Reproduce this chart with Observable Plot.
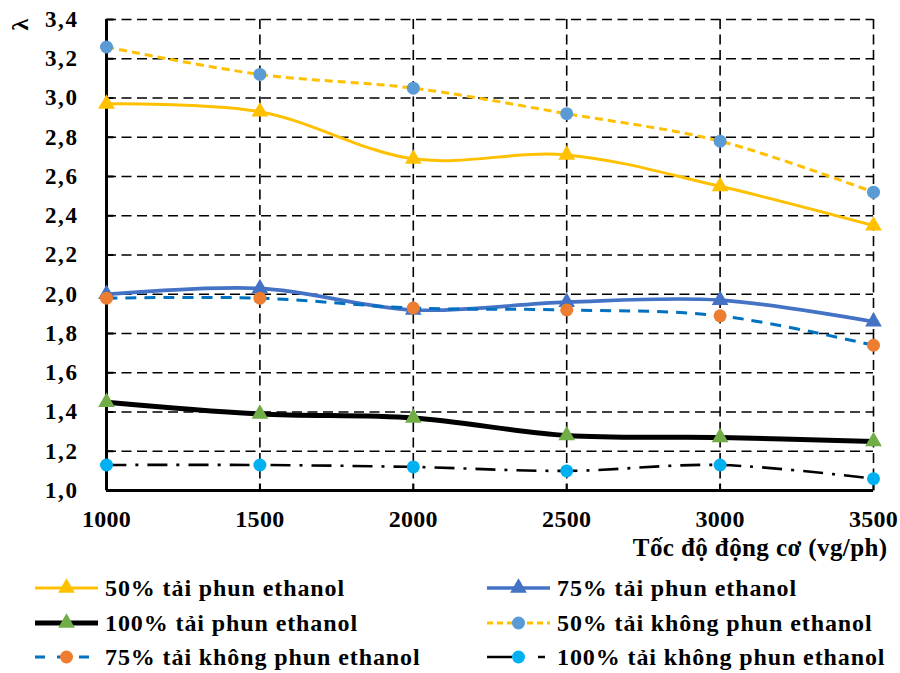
<!DOCTYPE html>
<html><head><meta charset="utf-8">
<script src="https://cdn.jsdelivr.net/npm/d3@7"></script>
<script src="https://cdn.jsdelivr.net/npm/@observablehq/plot@0.6"></script>
<style>
body{margin:0;background:#fff;}
#wrap{position:relative;width:900px;height:673px;font-family:"Liberation Serif",serif;font-weight:700;color:#000;}
#wrap svg.chart{position:absolute;left:0;top:0;}
#wrap svg.chart text{font-family:"Liberation Serif",serif !important;font-weight:700 !important;}
#wrap svg.chart g[aria-label="y-axis tick label"] text{font-size:23px !important;letter-spacing:1.6px;}
#wrap svg.chart g[aria-label="x-axis tick label"] text{font-size:24px !important;letter-spacing:0.3px;}
.leg{position:absolute;display:flex;align-items:center;font-size:24px;letter-spacing:0.9px;white-space:nowrap;line-height:1;}
.leg svg{margin-right:7px;}
</style></head><body><div id="wrap"></div>
<script>
// ---- data ----
const speeds = [1000, 1500, 2000, 2500, 3000, 3500];
const seriesNames = ["50% tải phun ethanol", "75% tải phun ethanol", "100% tải phun ethanol",
  "50% tải không phun ethanol", "75% tải không phun ethanol", "100% tải không phun ethanol"];
const load50Eth  = [2.97, 2.93, 2.69, 2.71, 2.55, 2.35];
const load75Eth  = [2.00, 2.03, 1.92, 1.96, 1.97, 1.86];
const load100Eth = [1.45, 1.39, 1.37, 1.28, 1.27, 1.25];
const load50No   = [3.26, 3.12, 3.05, 2.92, 2.78, 2.52];
const load75No   = [1.98, 1.98, 1.93, 1.92, 1.89, 1.74];
const load100No  = [1.13, 1.13, 1.12, 1.10, 1.13, 1.06];
const yTicks = [1.0, 1.2, 1.4, 1.6, 1.8, 2.0, 2.2, 2.4, 2.6, 2.8, 3.0, 3.2, 3.4];
const xTitle = "Tốc độ động cơ (vg/ph)";
const yTitle = "λ";

// ---- styles ----
const FONT = '"Liberation Serif", serif';
const styles = [
  {line: "#FFC000", width: 3,   dash: null,       symbol: "triangle", fill: "#FFC000", r: 6.2},
  {line: "#4472C4", width: 3.6, dash: null,       symbol: "triangle", fill: "#4472C4", r: 6.2},
  {line: "#000000", width: 5,   dash: null,       symbol: "triangle", fill: "#70AD47", r: 6.2},
  {line: "#FFC000", width: 3,   dash: "8,5",      symbol: "circle",   fill: "#5B9BD5", r: 6.5},
  {line: "#0070C0", width: 3,   dash: "11,8",     symbol: "circle",   fill: "#ED7D31", r: 6.5},
  {line: "#000000", width: 2.6, dash: "20,9,3,9", symbol: "circle",   fill: "#00B0F0", r: 6.5}
];
const allSeries = [load50Eth, load75Eth, load100Eth, load50No, load75No, load100No];
const rowsFor = (vals) => speeds.map((s, i) => ({speed: s, lambda: vals[i]}));
const fmt = d => d.toFixed(1).replace(".", ",");

// inward tick marks drawn as custom symbols
const tickRight = {draw(ctx) { ctx.moveTo(0, 0); ctx.lineTo(7, 0); }};
const tickUp = {draw(ctx) { ctx.moveTo(0, 0); ctx.lineTo(0, -7); }};

const marks = [
  Plot.gridY(yTicks, {stroke: "black", strokeOpacity: 1, strokeWidth: 1.6, strokeDasharray: "10,5.5"}),
  Plot.gridX(speeds.slice(1), {stroke: "black", strokeOpacity: 1, strokeWidth: 1.6, strokeDasharray: "10,5.5"}),
  Plot.dot(yTicks, {y: d => d, frameAnchor: "left", symbol: tickRight, stroke: "black", strokeWidth: 2, fill: "none"}),
  Plot.dot(speeds, {x: d => d, frameAnchor: "bottom", symbol: tickUp, stroke: "black", strokeWidth: 2, fill: "none"}),
  Plot.ruleX([1000], {stroke: "black", strokeWidth: 3}),
  Plot.ruleY([1.0], {stroke: "black", strokeWidth: 3}),
  Plot.axisY({ticks: yTicks, tickSize: 0, tickPadding: 28, tickFormat: fmt, label: null,
    fontSize: 23, fontFamily: FONT, fontWeight: "bold"}),
  Plot.axisX({ticks: speeds, tickSize: 0, tickPadding: 19, tickFormat: d => String(d), label: null,
    fontSize: 24, fontFamily: FONT, fontWeight: "bold"}),
];
allSeries.forEach((vals, k) => {
  const st = styles[k];
  const rows = rowsFor(vals);
  marks.push(Plot.line(rows, {x: "speed", y: "lambda", stroke: st.line, strokeWidth: st.width,
    strokeDasharray: st.dash || undefined, curve: "catmull-rom", strokeLinecap: "butt"}));
  marks.push(Plot.dot(rows, {x: "speed", y: "lambda", symbol: st.symbol, r: st.r, fill: st.fill, stroke: "none"}));
});
marks.push(Plot.text([xTitle], {frameAnchor: "bottom-right", dx: 14, dy: 57, text: d => d, textAnchor: "end",
  lineAnchor: "middle", fontSize: 25, fontWeight: "bold", fontFamily: FONT}));
marks.push(Plot.text([yTitle], {frameAnchor: "top-left", dx: -86, dy: 5, text: d => d, rotate: -90,
  textAnchor: "middle", lineAnchor: "middle", fontSize: 24, fontWeight: "bold", fontFamily: FONT}));

const chart = Plot.plot({
  width: 900, height: 575,
  marginLeft: 106, marginRight: 27, marginTop: 19, marginBottom: 85,
  x: {domain: [1000, 3500]},
  y: {domain: [1.0, 3.4]},
  style: {fontFamily: FONT, fontWeight: "bold", fontSize: "23px", color: "#000", background: "transparent", overflow: "visible"},
  marks
});
chart.classList.add("chart");
const wrap = document.getElementById("wrap");
wrap.appendChild(chart);
chart.querySelectorAll("g[aria-label='text'] text").forEach(t => t.setAttribute("letter-spacing", "0.4"));

// ---- legend (HTML, below the svg) ----
const legPos = [
  {left: 35, top: 588}, {left: 487, top: 588},
  {left: 35, top: 623}, {left: 487, top: 623},
  {left: 35, top: 657}, {left: 487, top: 657}
];
const swatchDash = ["", "", "", "6,4", "10,12", "25,26,7,20"];
seriesNames.forEach((name, k) => {
  const st = styles[k];
  const div = document.createElement("div");
  div.className = "leg";
  div.style.left = legPos[k].left + "px";
  div.style.top = (legPos[k].top - 14) + "px";
  const w = 63, h = 28, cy = 14;
  const ns = "http://www.w3.org/2000/svg";
  const s = document.createElementNS(ns, "svg");
  s.setAttribute("width", w); s.setAttribute("height", h);
  const ln = document.createElementNS(ns, "line");
  ln.setAttribute("x1", 0); ln.setAttribute("x2", w); ln.setAttribute("y1", cy); ln.setAttribute("y2", cy);
  ln.setAttribute("stroke", st.line); ln.setAttribute("stroke-width", st.width);
  if (swatchDash[k]) ln.setAttribute("stroke-dasharray", swatchDash[k]);
  s.appendChild(ln);
  const sym = st.symbol === "triangle" ? d3.symbolTriangle : d3.symbolCircle;
  const p = document.createElementNS(ns, "path");
  p.setAttribute("d", d3.symbol(sym, Math.PI * st.r * st.r)());
  p.setAttribute("transform", `translate(${w / 2},${cy})`);
  p.setAttribute("fill", st.fill);
  s.appendChild(p);
  div.appendChild(s);
  const span = document.createElement("span");
  span.textContent = name;
  div.appendChild(span);
  wrap.appendChild(div);
});
</script></body></html>
